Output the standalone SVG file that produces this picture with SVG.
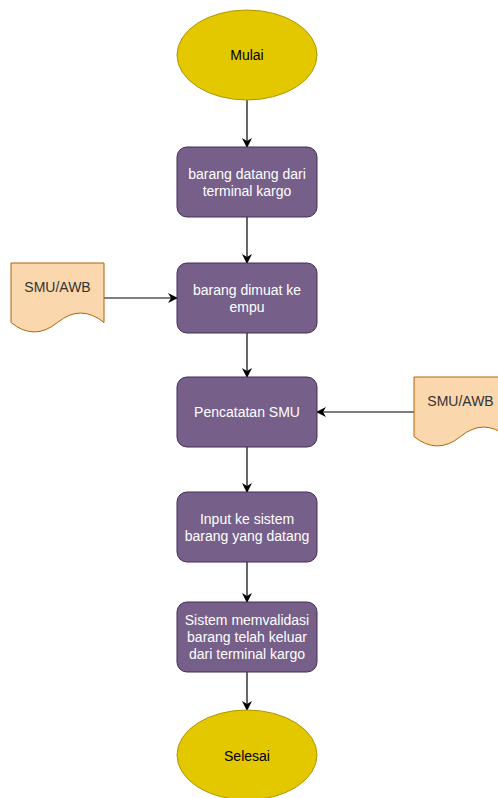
<svg xmlns="http://www.w3.org/2000/svg" width="498" height="798" viewBox="0 0 498 798">
  <defs>
    <marker id="arrow" viewBox="0 0 10 10" refX="9" refY="5" markerWidth="10" markerHeight="10" markerUnits="userSpaceOnUse" orient="auto">
      <path d="M0,0 L10,5 L0,10 L3,5 Z" fill="#000"/>
    </marker>
    <style>
      .terminal { fill: #e3c800; stroke: #b09500; stroke-width: 1; }
      .process { fill: #76608a; stroke: #432d57; stroke-width: 1; }
      .doc { fill: #fad7ac; stroke: #b46504; stroke-width: 1; }
      .edge { fill: none; stroke: #000; stroke-width: 1.2; marker-end: url(#arrow); }
      text { font-family: "Liberation Sans", Arial, Helvetica, sans-serif; font-size: 14px; text-anchor: middle; dominant-baseline: central; }
      .dark { fill: #000; }
      .light { fill: #fff; }
      .doctext { fill: #333; }
    </style>
  </defs>
  <rect width="498" height="798" fill="#fff"/>

  <g id="connectors">
    <path class="edge" d="M247,100 L247,147"/>
    <path class="edge" d="M247,217 L247,263"/>
    <path class="edge" d="M247,333 L247,377"/>
    <path class="edge" d="M247,447 L247,492"/>
    <path class="edge" d="M247,562 L247,602"/>
    <path class="edge" d="M247,672 L247,710"/>
    <path class="edge" d="M104,298 L177,298"/>
    <path class="edge" d="M414,412 L317,412"/>
  </g>

  <g id="start">
    <ellipse class="terminal" cx="247" cy="55" rx="70" ry="45"/>
    <text class="dark" x="247" y="55">Mulai</text>
  </g>

  <g id="arrive">
    <rect class="process" x="177" y="147" width="140" height="70" rx="10"/>
    <text class="light" x="247" y="174">barang datang dari</text>
    <text class="light" x="247" y="191">terminal kargo</text>
  </g>

  <g id="load">
    <rect class="process" x="177" y="263" width="140" height="70" rx="10"/>
    <text class="light" x="247" y="290">barang dimuat ke</text>
    <text class="light" x="247" y="307">empu</text>
  </g>

  <g id="record">
    <rect class="process" x="177" y="377" width="140" height="70" rx="10"/>
    <text class="light" x="247" y="412">Pencatatan SMU</text>
  </g>

  <g id="input">
    <rect class="process" x="177" y="492" width="140" height="70" rx="10"/>
    <text class="light" x="247" y="519">Input ke sistem</text>
    <text class="light" x="247" y="536">barang yang datang</text>
  </g>

  <g id="validate">
    <rect class="process" x="177" y="602" width="140" height="70" rx="10"/>
    <text class="light" x="247" y="620">Sistem memvalidasi</text>
    <text class="light" x="247" y="637">barang telah keluar</text>
    <text class="light" x="247" y="654">dari terminal kargo</text>
  </g>

  <g id="end">
    <ellipse class="terminal" cx="247" cy="755" rx="70" ry="45"/>
    <text class="dark" x="247" y="756">Selesai</text>
  </g>

  <!-- document shape: wavy bottom edge, 93 x 70 -->
  <g id="doc-left">
    <path class="doc" d="M11,263 L104,263 L104,322.5 Q80.75,303.6 57.5,322.5 Q34.25,341.4 11,322.5 Z"/>
    <text class="doctext" x="57.5" y="287">SMU/AWB</text>
  </g>

  <g id="doc-right">
    <path class="doc" d="M414,377 L507,377 L507,436.5 Q483.75,417.6 460.5,436.5 Q437.25,455.4 414,436.5 Z"/>
    <text class="doctext" x="460.5" y="401">SMU/AWB</text>
  </g>
</svg>
